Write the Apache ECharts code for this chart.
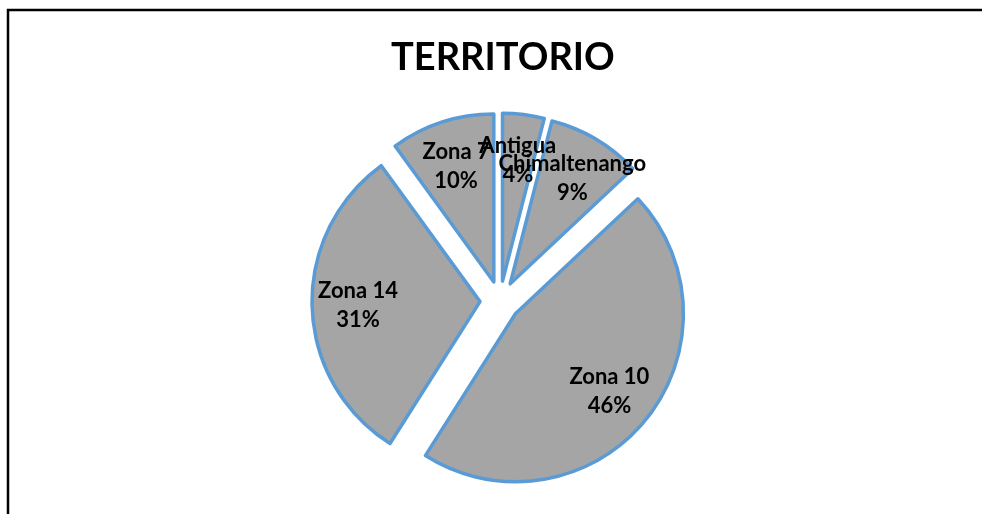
<!doctype html>
<html lang="es">
<head>
<meta charset="UTF-8">
<title>TERRITORIO</title>
<script src="https://cdn.jsdelivr.net/npm/echarts@6/dist/echarts.min.js"></script>
<style>
  html, body { margin: 0; padding: 0; background: #fff; }
  #main { width: 982px; height: 514px; }
</style>
</head>
<body>
<div id="main"></div>
<script>
// datos (porcentajes)
var categorias = ['Antigua', 'Chimaltenango', 'Zona 10', 'Zona 14', 'Zona 7'];
var valores = [4, 9, 46, 31, 10];

var datos = categorias.map(function (c, i) {
    return { name: c, value: valores[i], selected: true };
});

var myChart = echarts.init(document.getElementById('main'));

var option = {
    backgroundColor: '#ffffff',
    animation: false,
    title: {
        text: 'TERRITORIO',
        left: 386,
        top: 34,
        textStyle: {
            fontFamily: 'Lato',
            fontWeight: 'bold',
            fontSize: 38,
            color: '#000'
        }
    },
    graphic: [{
        type: 'rect',
        shape: { x: 8, y: 10, width: 1000, height: 600 },
        style: { fill: 'none', stroke: '#000', lineWidth: 2.5 },
        silent: true
    }],
    series: [
        {
            // sectores
            type: 'pie',
            center: [500, 301],
            radius: [0, 168],
            startAngle: 90,
            clockwise: true,
            selectedMode: 'multiple',
            selectedOffset: 20,
            silent: true,
            label: { show: false },
            labelLine: { show: false },
            itemStyle: {
                color: '#a5a5a5',
                borderColor: '#5b9bd5',
                borderWidth: 3.5
            },
            data: datos
        },
        {
            // solo etiquetas
            type: 'pie',
            center: [500, 301],
            radius: [70, 168],
            startAngle: 90,
            clockwise: true,
            selectedMode: 'multiple',
            selectedOffset: 20,
            silent: true,
            avoidLabelOverlap: false,
            percentPrecision: 0,
            itemStyle: { color: 'rgba(0,0,0,0)', borderWidth: 0 },
            label: {
                show: true,
                position: 'inside',
                formatter: '{b}\n{d}%',
                fontFamily: 'Lato',
                fontWeight: 'bold',
                fontSize: 22,
                lineHeight: 29,
                color: '#000'
            },
            labelLayout: { hideOverlap: false },
            labelLine: { show: false },
            data: datos
        }
    ]
};

myChart.setOption(option);
</script>
</body>
</html>
